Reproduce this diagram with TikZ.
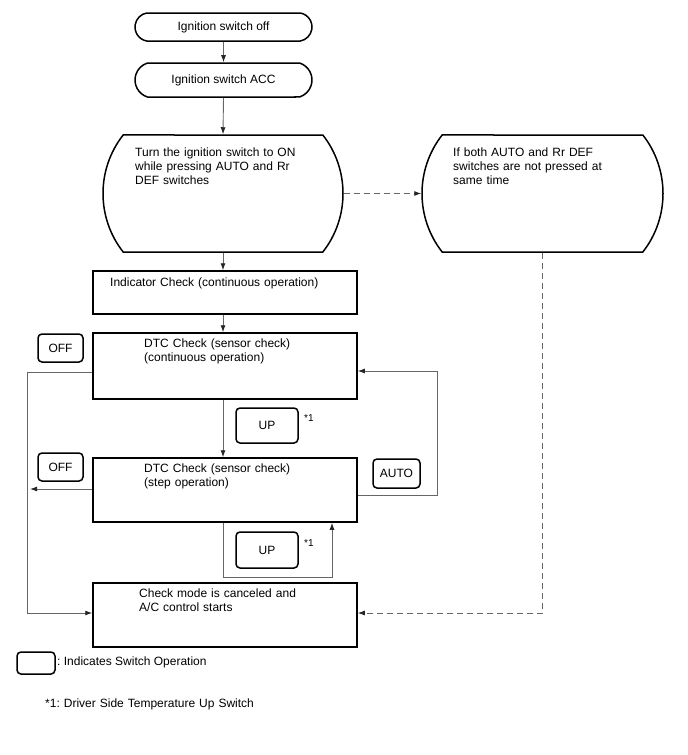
\documentclass[tikz,border=0pt]{standalone}
\usepackage{fontspec}
\setmainfont{Liberation Sans}
\frenchspacing
\usetikzlibrary{shapes.misc,arrows.meta}
\begin{document}
\begin{tikzpicture}[x=1pt,y=-1pt,
  every node/.style={font=\fontsize{12}{14.2}\selectfont},
  stad/.style={draw,rounded rectangle,line width=1.5pt,inner sep=0pt},
  box/.style={draw,rectangle,line width=1.5pt,inner sep=0pt},
  sw/.style={draw,rounded corners=4pt,line width=1.5pt,inner sep=0pt},
  txt/.style={anchor=base west,inner sep=0pt,align=left,text width=220pt},
  conn/.style={draw=black!60,line width=0.9pt},
  arr/.style={conn,-{Latex[length=7pt,width=5pt,color=black!85]}},
  dsh/.style={arr,dash pattern=on 6pt off 4pt},
  star/.style={anchor=west,inner sep=0pt,font=\fontsize{10}{12}\selectfont}
]
\path[use as bounding box] (0,0) rectangle (688,755);

% main flow shapes
\node[stad, minimum width=177pt, minimum height=28pt, rounded rectangle arc length=160] (off) at (223.5,27) {Ignition switch off};
\node[stad, minimum width=177pt, minimum height=34pt, rounded rectangle arc length=145] (acc) at (223.5,80) {Ignition switch ACC};
\node[stad, minimum width=240pt, minimum height=117pt, rounded rectangle arc length=76] (on) at (223,193.5) {};
\node[txt] (ontxt) at (135,156) {Turn the ignition switch to ON\\while pressing AUTO and Rr\\DEF switches};
\node[stad, minimum width=241pt, minimum height=117pt, rounded rectangle arc length=76] (nop) at (542.5,193.5) {};
\node[txt] (noptxt) at (453,156) {If both AUTO and Rr DEF\\switches are not pressed at\\same time};

\node[box, minimum width=264pt, minimum height=43pt] (ind) at (225,292.5) {};
\node[txt] (indtxt) at (110,286) {Indicator Check (continuous operation)};
\node[box, minimum width=264pt, minimum height=66pt] (dtc1) at (225,366) {};
\node[txt] (dtc1txt) at (144,347.5) {DTC Check (sensor check)\\(continuous operation)};
\node[box, minimum width=264pt, minimum height=64pt] (dtc2) at (225,490) {};
\node[txt] (dtc2txt) at (144,472.5) {DTC Check (sensor check)\\(step operation)};
\node[box, minimum width=264pt, minimum height=64pt] (cancel) at (225,615) {};
\node[txt] (canceltxt) at (139,597.5) {Check mode is canceled and\\A/C control starts};

% switch boxes
\node[sw, minimum width=45pt, minimum height=28pt] (off1) at (60.5,348) {OFF};
\node[sw, minimum width=45pt, minimum height=28pt] (off2) at (60.5,467) {OFF};
\node[sw, minimum width=62pt, minimum height=35pt] (up1) at (267,425.5) {UP};
\node[sw, minimum width=62pt, minimum height=36pt] (up2) at (267,550) {UP};
\node[sw, minimum width=47pt, minimum height=29pt] (auto) at (396.5,473.5) {AUTO};
\node[star] (st1) at (304,418) {*1};
\node[star] (st2) at (304,543) {*1};

% legend
\node[sw, minimum width=38pt, minimum height=22pt] (leg) at (36,663) {};
\node[anchor=base west, inner sep=0pt] (legtxt) at (57,665.5) {: Indicates Switch Operation};
\node[txt] (fn) at (45,707.5) {*1: Driver Side Temperature Up Switch};

% helper coordinates
\coordinate (Lt) at (27,372);
\coordinate (Lb) at (27,613);
\coordinate (Lm) at (30,489);
\coordinate (Rb) at (437,495);
\coordinate (Rt) at (437,371);
\coordinate (Ub1) at (223,577);
\coordinate (Ub2) at (332,577);
\coordinate (Dc) at (542.5,613);

% connectors
\draw[arr] (off) -- (acc);
\draw[arr] (acc.south) -- (on.north);
\draw[arr] (on.south) -- (on.south |- ind.north);
\draw[arr] (on.south |- ind.south) -- (on.south |- dtc1.north);
\draw[arr] (on.south |- dtc1.south) -- (on.south |- dtc2.north);
\draw[dsh] (on.east) -- (nop.west);
\draw[dsh] (nop.south) -- (Dc) -- (cancel.east |- Dc);
\draw[arr] (dtc1.west |- Lt) -- (Lt) -- (Lb) -- (cancel.west |- Lb);
\draw[arr] (dtc2.west |- Lm) -- (Lm);
\draw[arr] (dtc2.east |- Rb) -- (Rb) -- (Rt) -- (dtc1.east |- Rt);
\draw[arr] (on.south |- dtc2.south) -- (Ub1) -- (Ub2) -- (Ub2 |- dtc2.south);
\end{tikzpicture}
\end{document}
